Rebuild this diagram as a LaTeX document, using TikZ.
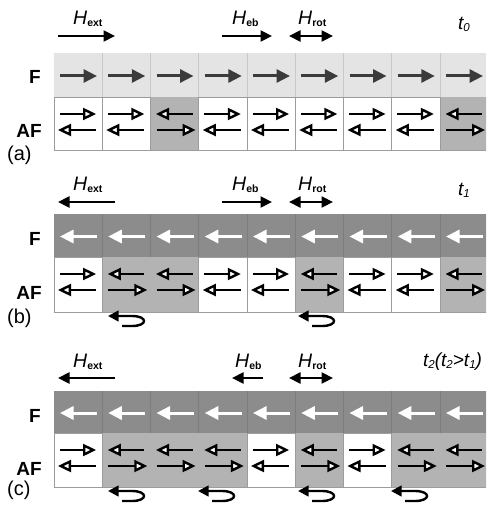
\documentclass[tikz,border=0pt]{standalone}
\usepackage{fontspec}
\setmainfont{Liberation Sans}
\usetikzlibrary{arrows.meta}

\definecolor{frowlight}{HTML}{E4E4E4}
\definecolor{frowdark}{HTML}{8C8C8C}
\definecolor{flinelight}{HTML}{C9C9C9}
\definecolor{flinedark}{HTML}{7C7C7C}
\definecolor{afshade}{HTML}{B3B3B3}
\definecolor{afline}{HTML}{9C9C9C}
\definecolor{spindark}{HTML}{3B3B3B}

% lowered subscripts and field symbol
\newcommand\subtxt[1]{\raisebox{-2pt}{\fontsize{11.5}{12}\selectfont #1}}
\newcommand\fieldsub[1]{\raisebox{-2pt}{\fontsize{10.5}{11}\selectfont\bfseries #1}}
\newcommand\fieldname[1]{{\fontsize{19.5}{20}\selectfont\itshape H}\fieldsub{#1}}

% one panel: F top, AF top, AF bottom, F fill, F divider, F spin colour,
% F spin start offset, unswitched AF cells, switched AF cells
\newcommand\magpanel[9]{%
  \fill[#4] (54,#1) rectangle (488.25,#2);
  \foreach \i in {1,...,8}
    \draw[#5,line width=0.8pt] ({54+48.25*\i},#1) -- ({54+48.25*\i},#2);
  \foreach \i in {0,...,8}
    \draw[fspin,#6] ({54+48.25*\i+#7},{(#1+#2)/2+1}) -- ({54+48.25*\i+49-#7},{(#1+#2)/2+1});
  \foreach \i in {#9}
    \fill[afshade] ({54+48.25*\i},#2) rectangle ++(48.25,{#3-#2});
  \foreach \i in {#8}
    \draw[afline,line width=0.8pt,fill=white] ({54+48.25*\i},#2) rectangle ++(48.25,{#3-#2});
  \draw[afline,line width=0.8pt] (54,#2) -- (54,#3) -- (488.25,#3);
  \foreach \i in {#8} \pic at ({54+48.25*\i},#2) {afn};
  \foreach \i in {#9} \pic at ({54+48.25*\i},#2) {aff};
}

% rotation sense arrow below a switched cell
\newcommand\curlarrow[2]{%
  \draw[curl] ({#1+14},{#2+10}) -- ({#1+24},{#2+10})
    .. controls ({#1+40},{#2+10}) and ({#1+40},#2) .. ({#1+24},#2) -- (#1,#2);}

\begin{document}
\begin{tikzpicture}[x=1pt,y=-1pt,
  hfield/.style={line width=2.3pt,-{Triangle[length=11.5pt,width=11pt]}},
  hboth/.style={line width=2.3pt,{Triangle[length=11.5pt,width=11pt]}-{Triangle[length=11.5pt,width=11pt]}},
  fspin/.style={line width=3pt,-{Triangle[length=13.5pt,width=13pt]}},
  afspin/.style={line width=2.4pt,-{Triangle[open,fill=white,length=13pt,width=12pt]}},
  curl/.style={line width=2.4pt,-{Triangle[length=10.5pt,width=10.5pt]}},
  rowlabel/.style={font=\fontsize{19}{20}\selectfont\bfseries,anchor=base east,inner sep=0pt},
  panellabel/.style={font=\fontsize{20}{22}\selectfont,anchor=west,inner sep=0pt},
  fieldlabel/.style={anchor=base west,inner sep=0pt},
  timelabel/.style={font=\fontsize{19}{20}\selectfont\itshape,anchor=base west,inner sep=0pt},
  afn/.pic={\draw[afspin] (5.5,17) -- (42,17); \draw[afspin] (42,33) -- (4,33);},
  aff/.pic={\draw[afspin] (42,17) -- (5.5,17); \draw[afspin] (6,33) -- (45,33);}
]
\useasboundingbox (0,0) rectangle (486,510);
\clip (0,0) rectangle (486,510);

% ---------- panel (a) ----------
\magpanel{53}{97}{150}{frowlight}{flinelight}{spindark}{6}{0,1,3,4,5,6,7}{2,8}
\node[rowlabel] (fa) at (41,84) {F};
\node[rowlabel] (afa) at (42,138) {AF};
\node[panellabel] (pa) at (7,155) {(a)};
\node[fieldlabel] (hexta) at (73,25) {\fieldname{ext}};
\node[fieldlabel] (heba) at (232,25) {\fieldname{eb}};
\node[fieldlabel] (hrota) at (298,25) {\fieldname{rot}};
\draw[hfield] (58,36) -- (115,36);
\draw[hfield] (222,36) -- (272,36);
\draw[hboth] (289,36) -- (333,36);
\node[timelabel] (ta) at (458,30) {t\subtxt{0}};

% ---------- panel (b) ----------
\magpanel{214}{257}{312}{frowdark}{flinedark}{white}{43}{0,3,4,6,7}{1,2,5,8}
\node[rowlabel] (fb) at (41,245) {F};
\node[rowlabel] (afb) at (42,299) {AF};
\node[panellabel] (pb) at (7,318) {(b)};
\node[fieldlabel] (hextb) at (73,190.5) {\fieldname{ext}};
\node[fieldlabel] (hebb) at (232,190.5) {\fieldname{eb}};
\node[fieldlabel] (hrotb) at (298,190.5) {\fieldname{rot}};
\draw[hfield] (115,202) -- (58,202);
\draw[hfield] (222,202) -- (272,202);
\draw[hboth] (289,202) -- (333,202);
\node[timelabel] (tb) at (458,196) {t\subtxt{1}};
\curlarrow{108}{316}
\curlarrow{298}{316}

% ---------- panel (c) ----------
\magpanel{391}{433}{487}{frowdark}{flinedark}{white}{43}{0,4,6}{1,2,3,5,7,8}
\node[rowlabel] (fc) at (41,422) {F};
\node[rowlabel] (afc) at (42,475) {AF};
\node[panellabel] (pc) at (7,490) {(c)};
\node[fieldlabel] (hextc) at (73,367.5) {\fieldname{ext}};
\node[fieldlabel] (hebc) at (235,367.5) {\fieldname{eb}};
\node[fieldlabel] (hrotc) at (298,367.5) {\fieldname{rot}};
\draw[hfield] (115,378) -- (58,378);
\draw[hfield] (263,378) -- (232,378);
\draw[hboth] (289,378) -- (333,378);
\node[timelabel] (tc) at (423,366) {t\subtxt{2}(t\subtxt{2}>t\subtxt{1})};
\curlarrow{108}{491}
\curlarrow{198}{491}
\curlarrow{298}{491}
\curlarrow{391}{491}
\end{tikzpicture}
\end{document}
